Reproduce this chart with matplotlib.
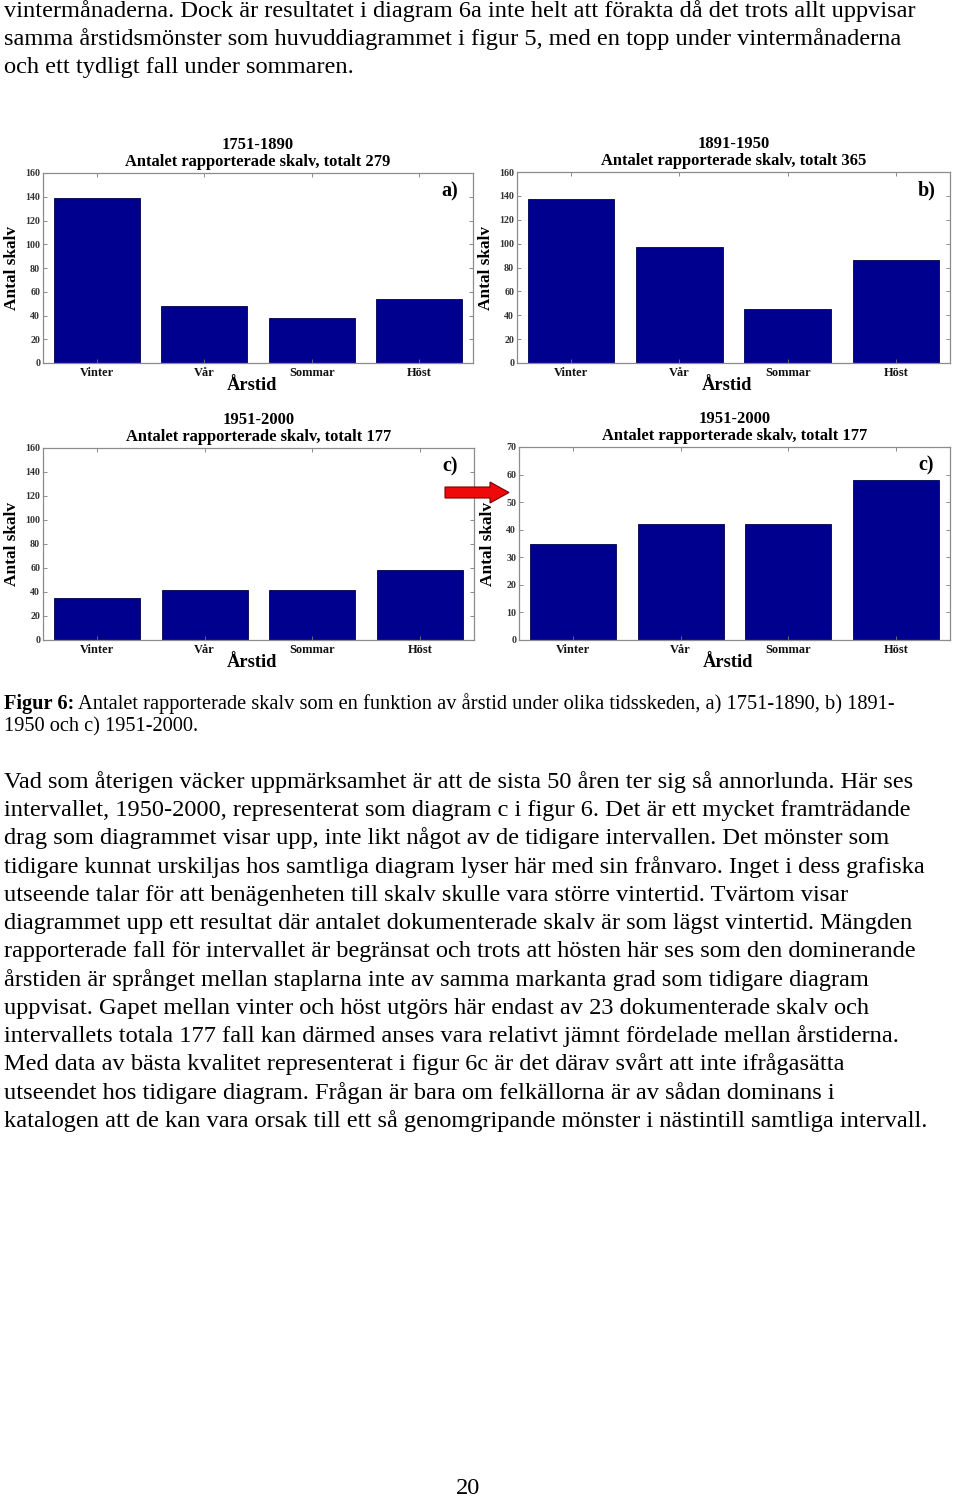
import matplotlib
matplotlib.use("Agg")
import matplotlib.pyplot as plt
from matplotlib.patches import Polygon

# ---------------- data ----------------
categories = ["Vinter", "Vår", "Sommar", "Höst"]
values_a = [139, 48, 38, 54]      # 1751-1890, totalt 279
values_b = [137, 97, 45, 86]      # 1891-1950, totalt 365
values_c = [35, 42, 42, 58]       # 1951-2000, totalt 177

titles = [
    "1751-1890\nAntalet rapporterade skalv, totalt 279",
    "1891-1950\nAntalet rapporterade skalv, totalt 365",
    "1951-2000\nAntalet rapporterade skalv, totalt 177",
    "1951-2000\nAntalet rapporterade skalv, totalt 177",
]
panel_labels = ["a)", "b)", "c)", "c)"]

top_lines = [
    "vintermånaderna. Dock är resultatet i diagram 6a inte helt att förakta då det trots allt uppvisar",
    "samma årstidsmönster som huvuddiagrammet i figur 5, med en topp under vintermånaderna",
    "och ett tydligt fall under sommaren.",
]
caption_bold = "Figur 6:"
caption_lines = [
    " Antalet rapporterade skalv som en funktion av årstid under olika tidsskeden, a) 1751-1890, b) 1891-",
    "1950 och c) 1951-2000.",
]
body_lines = [
    "Vad som återigen väcker uppmärksamhet är att de sista 50 åren ter sig så annorlunda. Här ses",
    "intervallet, 1950-2000, representerat som diagram c i figur 6. Det är ett mycket framträdande",
    "drag som diagrammet visar upp, inte likt något av de tidigare intervallen. Det mönster som",
    "tidigare kunnat urskiljas hos samtliga diagram lyser här med sin frånvaro. Inget i dess grafiska",
    "utseende talar för att benägenheten till skalv skulle vara större vintertid. Tvärtom visar",
    "diagrammet upp ett resultat där antalet dokumenterade skalv är som lägst vintertid. Mängden",
    "rapporterade fall för intervallet är begränsat och trots att hösten här ses som den dominerande",
    "årstiden är språnget mellan staplarna inte av samma markanta grad som tidigare diagram",
    "uppvisat. Gapet mellan vinter och höst utgörs här endast av 23 dokumenterade skalv och",
    "intervallets totala 177 fall kan därmed anses vara relativt jämnt fördelade mellan årstiderna.",
    "Med data av bästa kvalitet representerat i figur 6c är det därav svårt att inte ifrågasätta",
    "utseendet hos tidigare diagram. Frågan är bara om felkällorna är av sådan dominans i",
    "katalogen att de kan vara orsak till ett så genomgripande mönster i nästintill samtliga intervall.",
]
page_number = "20"

# ---------------- figure ----------------
W, H = 960, 1499
DPI = 100
fig = plt.figure(figsize=(W / DPI, H / DPI), dpi=DPI)
fig.patch.set_facecolor("white")
SERIF = ["Liberation Serif", "DejaVu Serif"]


def rect(l, t, r, b):
    return [l / W, 1 - b / H, (r - l) / W, (b - t) / H]


panels = [
    (rect(43, 173, 473, 363), values_a, (0, 160), range(0, 161, 20)),
    (rect(517, 172, 950, 363), values_b, (0, 160), range(0, 161, 20)),
    (rect(43, 448, 474, 640), values_c, (0, 160), range(0, 161, 20)),
    (rect(519, 447, 950, 640), values_c, (0, 70), range(0, 71, 10)),
]

bar_color = "#00008f"
spine_color = "#8c8c8c"
for i, (r, vals, ylim, yt) in enumerate(panels):
    ax = fig.add_axes(r)
    x = list(range(1, len(categories) + 1))
    ax.bar(x, vals, width=0.8, color=bar_color, edgecolor="#000050", linewidth=0.6)
    ax.set_xlim(0.5, 4.5)
    ax.set_ylim(*ylim)
    ax.set_yticks(list(yt))
    ax.set_xticks(x)
    ax.set_xticklabels(categories, fontfamily=SERIF, fontweight="bold", fontsize=8.9, color="#111111")
    for lab in ax.get_yticklabels():
        lab.set_fontfamily(SERIF)
        lab.set_fontweight("bold")
        lab.set_fontsize(7.2)
        lab.set_color("#333333")
    ax.tick_params(direction="in", length=3, width=0.6, color="#777777",
                   top=True, right=True, pad=2)
    ax.tick_params(axis="x", pad=3)
    for s in ax.spines.values():
        s.set_color(spine_color)
        s.set_linewidth(0.9)
    ax.set_title(titles[i], fontfamily=SERIF, fontweight="bold", fontsize=11.9,
                 linespacing=1.05, pad=5)
    ax.text(0.945, 0.905, panel_labels[i], transform=ax.transAxes, ha="center", va="center",
            fontfamily=SERIF, fontweight="bold", fontsize=14.5)
    ax.text(0.485, -0.117, "Årstid", transform=ax.transAxes, ha="center", va="center",
            fontfamily=SERIF, fontweight="bold", fontsize=13.3)
    ax.text(-0.072, 0.5, "Antal skalv", transform=ax.transAxes, ha="center", va="center",
            rotation=90, fontfamily=SERIF, fontweight="bold", fontsize=12.4)

# overlay in pixel coordinates
ov = fig.add_axes([0, 0, 1, 1], zorder=10)
ov.set_xlim(0, W)
ov.set_ylim(H, 0)
ov.axis("off")
ov.patch.set_alpha(0)

# red arrow
arrow_pts = [(445, 487), (490, 487), (490, 482), (509, 492.5), (490, 503), (490, 498), (445, 498)]
ov.add_patch(Polygon(arrow_pts, closed=True, facecolor="#ee0a0a", edgecolor="#7a0000", linewidth=0.8))

BODY_FS = 17.6
for k, line in enumerate(top_lines):
    ov.text(4, 11 + k * 28.2, line, ha="left", va="center", fontfamily=SERIF, fontsize=BODY_FS)

CAP_FS = 14.7
t_bold = ov.text(4, 704, caption_bold, ha="left", va="center", fontfamily=SERIF,
                 fontsize=CAP_FS, fontweight="bold")
fig.canvas.draw()
bb = t_bold.get_window_extent(renderer=fig.canvas.get_renderer())
ov.text(bb.x1, 704, caption_lines[0], ha="left", va="center", fontfamily=SERIF, fontsize=CAP_FS)
ov.text(4, 727, caption_lines[1], ha="left", va="center", fontfamily=SERIF, fontsize=CAP_FS)

for k, line in enumerate(body_lines):
    ov.text(4, 782 + k * 28.25, line, ha="left", va="center", fontfamily=SERIF, fontsize=BODY_FS)

ov.text(468, 1489, page_number, ha="center", va="center", fontfamily=SERIF, fontsize=BODY_FS)

fig.savefig("out.png", dpi=DPI, facecolor="white")
